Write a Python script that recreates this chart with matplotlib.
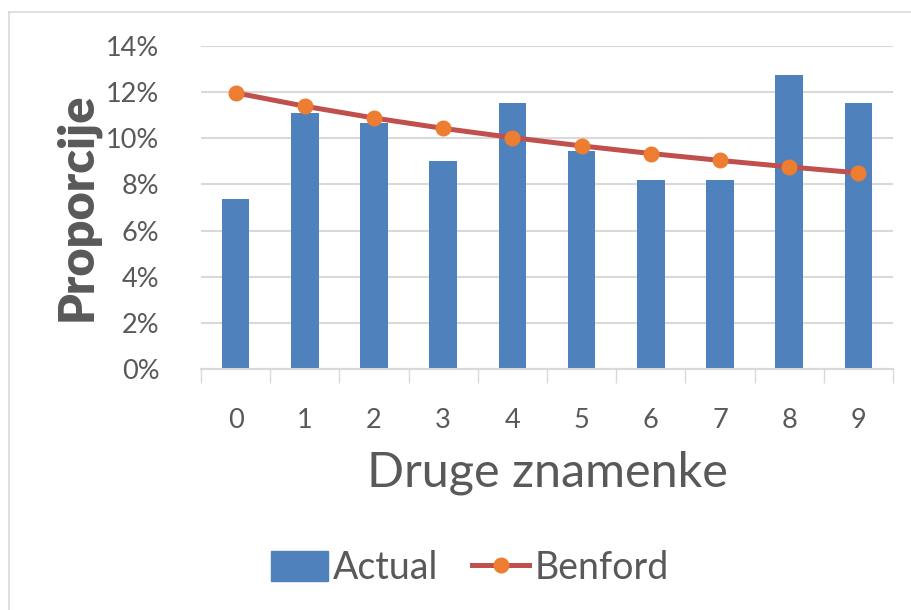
import matplotlib.pyplot as plt
from matplotlib.lines import Line2D
from matplotlib.patches import Patch
from matplotlib.ticker import PercentFormatter, FixedLocator

digits: list[str] = ['0', '1', '2', '3', '4', '5', '6', '7', '8', '9']
actual: list[float] = [7.39, 11.11, 10.68, 9.03, 11.52, 9.45, 8.21, 8.21, 12.76, 11.52]
benford: list[float] = [11.97, 11.39, 10.88, 10.43, 10.03, 9.67, 9.34, 9.04, 8.76, 8.50]

plt.rcParams['font.family'] = ['Lato', 'DejaVu Sans']
text_col = '#595959'
grid_col = '#D9D9D9'

fig = plt.figure(figsize=(9.11, 6.1), dpi=100)
ax = fig.add_axes([201 / 911, 1 - 369 / 610, 692 / 911, 323 / 610])

x = list(range(len(digits)))
ax.bar(x, actual, width=0.4, color='#4F81BD', zorder=2, label='Actual')
ax.plot(x, benford, color='#C0504D', lw=3.6, marker='o', markersize=10.5,
        markerfacecolor='#ED7D31', markeredgecolor='#ED7D31', zorder=3, label='Benford')

# axes look
ax.set_xlim(-0.5, 9.5)
ax.set_ylim(0, 14)
ax.set_yticks(range(0, 15, 2))
ax.yaxis.set_major_formatter(PercentFormatter(decimals=0))
ax.set_xticks(x)
ax.set_xticklabels(digits)
ax.xaxis.set_minor_locator(FixedLocator([i - 0.5 for i in range(11)]))
ax.tick_params(axis='x', which='major', length=0, pad=28, labelsize=19.5, labelcolor=text_col)
ax.tick_params(axis='x', which='minor', length=10, width=1, color=grid_col)
ax.tick_params(axis='y', length=0, pad=30, labelsize=19.5, labelcolor=text_col)
ax.grid(axis='y', color=grid_col, lw=1.5, zorder=0)
for s in ['top', 'right', 'left']:
    ax.spines[s].set_visible(False)
ax.spines['bottom'].set_color(grid_col)
ax.spines['bottom'].set_linewidth(1.5)

fig.text(547 / 911, 1 - 473 / 610, 'Druge znamenke', ha='center', va='center',
         fontsize=35, color=text_col)
fig.text(77 / 911, 1 - 207 / 610, 'Proporcije', ha='center', va='center',
         rotation=90, fontsize=35, fontweight='heavy', color=text_col)

# legend
handles = [Patch(color='#4F81BD'),
           Line2D([], [], color='#C0504D', lw=3.6, marker='o', markersize=10.5,
                  markerfacecolor='#ED7D31', markeredgecolor='#ED7D31')]
fig.legend(handles, ['Actual', 'Benford'], loc='center', ncol=2,
           bbox_to_anchor=(470 / 911, 1 - 568 / 610), frameon=False,
           fontsize=27, labelcolor=text_col, handlelength=1.5, handleheight=0.85,
           handletextpad=0.15, columnspacing=0.9)

# chart area border
fig.add_artist(Line2D([9 / 911, 9 / 911], [0, 1 - 12 / 610], color=grid_col, lw=1.2))
fig.add_artist(Line2D([9 / 911, 1], [1 - 12 / 610, 1 - 12 / 610], color=grid_col, lw=1.2))

fig.savefig('out.png', dpi=100)
